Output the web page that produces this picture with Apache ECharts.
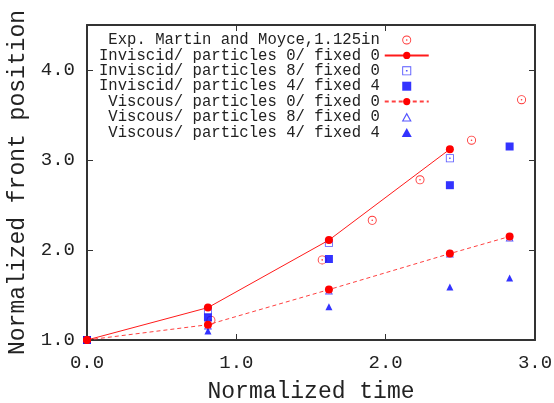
<!DOCTYPE html>
<html>
<head>
<meta charset="utf-8">
<script src="https://cdn.jsdelivr.net/npm/echarts@6/dist/echarts.min.js"></script>
<style>
  html, body { margin: 0; padding: 0; background: #fff; }
  #chart { width: 554px; height: 403px; }
</style>
</head>
<body>
<div id="chart"></div>
<script>
// experiment (Martin and Moyce)
var expTime = [0.83, 1.575, 1.91, 2.23, 2.575, 2.91];
var expFront = [1.22, 1.89, 2.33, 2.78, 3.22, 3.67];

// simulations
var simTime = [0, 0.81, 1.62, 2.43, 2.83];
var inv00 = [1.0, 1.36, 2.11, 3.12];
var inv80 = [1.0, 1.33, 2.08, 3.02];
var inv44 = [1.0, 1.25, 1.90, 2.72, 3.15];
var vis00 = [1.0, 1.17, 1.56, 1.96, 2.15];
var vis80 = [1.0, 1.16, 1.55, 1.96, 2.14];
var vis44 = [1.0, 1.10, 1.37, 1.59, 1.69];

var seriesNames = [
    'Exp. Martin and Moyce,1.125in',
    'Inviscid/ particles 0/ fixed 0',
    'Inviscid/ particles 8/ fixed 0',
    'Inviscid/ particles 4/ fixed 4',
    'Viscous/ particles 0/ fixed 0',
    'Viscous/ particles 8/ fixed 0',
    'Viscous/ particles 4/ fixed 4'
];

var xTicks = [0, 1, 2, 3];
var yTicks = [1, 2, 3, 4];

function pairs(xs, ys) {
    return ys.map(function (y, i) { return [xs[i], y]; });
}

// hollow markers with a dot in the middle (ring drawn as a filled path)
var ringDot = 'path://M0,-5 A5,5 0 1,1 0,5 A5,5 0 1,1 0,-5 Z M0,-4 A4,4 0 1,0 0,4 A4,4 0 1,0 0,-4 Z M0,-0.9 A0.9,0.9 0 1,1 0,0.9 A0.9,0.9 0 1,1 0,-0.9 Z';
var boxDot = 'path://M-5,-5 L5,-5 L5,5 L-5,5 Z M-4,-4 L-4,4 L4,4 L4,-4 Z M-0.9,-0.9 L0.9,-0.9 L0.9,0.9 L-0.9,0.9 Z';
var triOpen = 'path://M0,-5 L5,4 L-5,4 Z M0,-2.4 L-3.1,2.9 L3.1,2.9 Z';
var boxFull = 'path://M-5,-5 L5,-5 L5,5 L-5,5 Z';
var triFull = 'path://M0,-5 L5,4 L-5,4 Z';

var font = "'Liberation Mono', 'DejaVu Sans Mono', monospace";
var red = '#ff0000';
var blue = '#0000ff';

var myChart = echarts.init(document.getElementById('chart'));

function tickAxis(pos, isX) {
    return {
        type: 'value',
        position: pos,
        min: isX ? 0 : 1,
        max: isX ? 3 : 4.5,
        interval: 1,
        axisLine: { show: true, onZero: false, lineStyle: { color: '#333', width: 2 } },
        axisTick: { show: true, inside: true, length: 6, lineStyle: { color: '#333', width: 1 } },
        axisLabel: { show: false },
        splitLine: { show: false }
    };
}

var xBottom = tickAxis('bottom', true);
xBottom.axisLabel = {
    show: true, margin: 13, color: '#222', fontFamily: font, fontSize: 19,
    formatter: function (v) { return xTicks.indexOf(v) >= 0 ? v.toFixed(1) : ''; }
};
xBottom.name = 'Normalized time';
xBottom.nameLocation = 'middle';
xBottom.nameGap = 40;
xBottom.nameTextStyle = { color: '#222', fontFamily: font, fontSize: 23 };

var yLeft = tickAxis('left', false);
yLeft.axisLabel = {
    show: true, margin: 12, color: '#222', fontFamily: font, fontSize: 19,
    showMaxLabel: false,
    formatter: function (v) { return yTicks.indexOf(v) >= 0 ? v.toFixed(1) : ''; }
};
yLeft.name = 'Normalized front position';
yLeft.nameLocation = 'middle';
yLeft.nameGap = 50;
yLeft.nameTextStyle = { color: '#222', fontFamily: font, fontSize: 23 };

var xTop = tickAxis('top', true);
var yRight = tickAxis('right', false);

myChart.setOption({
    animation: false,
    backgroundColor: '#fff',
    grid: { left: 87, right: 19, top: 25, bottom: 63, outerBoundsMode: 'none' },
    legend: {
        orient: 'vertical',
        left: 99,
        top: 32,
        padding: 0,
        itemGap: -0.6,
        align: 'right',
        itemWidth: 44,
        itemHeight: 9,
        textStyle: { color: '#222', fontFamily: font, fontSize: 15.6 },
        formatter: function (name) {
            var s = name;
            while (s.length < 30) s = '\u00a0' + s;
            return s;
        },
        data: seriesNames
    },
    xAxis: [xBottom, xTop],
    yAxis: [yLeft, yRight],
    series: [
        {
            name: seriesNames[0], type: 'scatter',
            symbol: ringDot, symbolSize: 9,
            itemStyle: { color: red },
            data: pairs(expTime, expFront)
        },
        {
            name: seriesNames[1], type: 'line',
            symbol: 'circle', symbolSize: 8,
            itemStyle: { color: red },
            lineStyle: { color: '#ff1a1a', width: 1 },
            data: pairs(simTime, inv00)
        },
        {
            name: seriesNames[2], type: 'scatter',
            symbol: boxDot, symbolSize: 8,
            itemStyle: { color: '#2a2aff' },
            data: pairs(simTime, inv80)
        },
        {
            name: seriesNames[3], type: 'scatter',
            symbol: boxFull, symbolSize: 8,
            itemStyle: { color: blue },
            data: pairs(simTime, inv44)
        },
        {
            name: seriesNames[4], type: 'line',
            symbol: 'circle', symbolSize: 8,
            itemStyle: { color: red },
            lineStyle: { color: '#ff4040', width: 1, type: [4, 3] },
            data: pairs(simTime, vis00)
        },
        {
            name: seriesNames[5], type: 'scatter',
            symbol: triOpen, symbolSize: 8,
            itemStyle: { color: '#2a2aff' },
            data: pairs(simTime, vis80)
        },
        {
            name: seriesNames[6], type: 'scatter',
            symbol: triFull, symbolSize: 7,
            itemStyle: { color: blue },
            data: pairs(simTime, vis44)
        }
    ]
});
</script>
</body>
</html>
